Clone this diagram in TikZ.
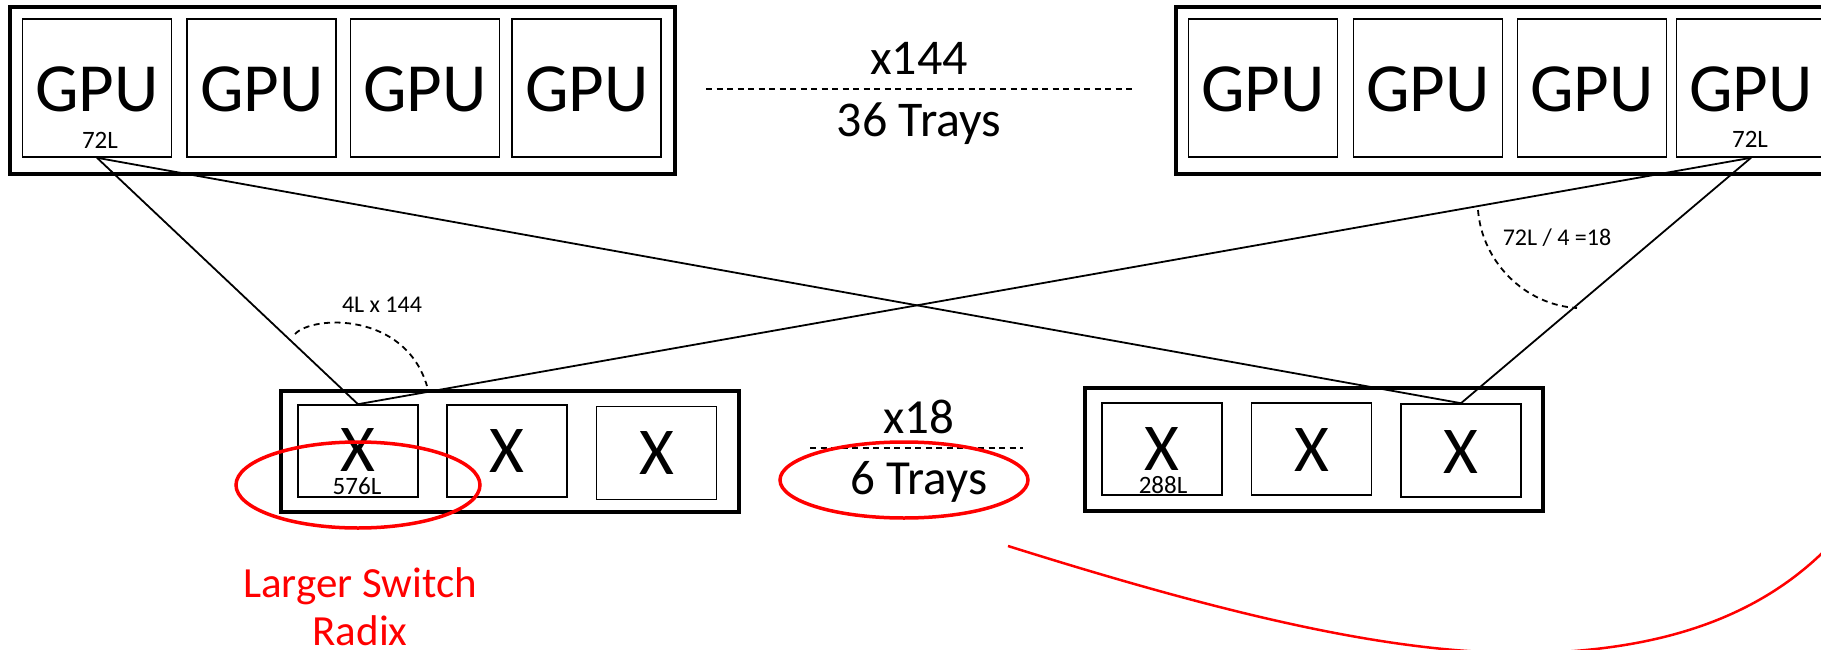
\documentclass[tikz,border=0pt]{standalone}
\usepackage{fontspec}
\setmainfont{Carlito}
\begin{document}
\begin{tikzpicture}[x=1pt,y=-1pt,
  tray/.style={draw, line width=4.5pt, inner sep=0pt, minimum width=#1},
  tray/.default=458pt,
  gpubox/.style={draw, line width=1.6pt, inner sep=0pt, minimum width=149pt, minimum height=138pt},
  xbox/.style={draw, line width=1.6pt, inner sep=0pt, minimum width=120pt, minimum height=92pt},
  big/.style={font=\fontsize{69}{70}\selectfont, anchor=base, inner sep=0pt},
  xlet/.style={font=\fontsize{67}{68}\selectfont, anchor=base, inner sep=0pt},
  mid/.style={font=\fontsize{50}{52}\selectfont, anchor=base, inner sep=0pt},
  small/.style={font=\fontsize{25}{26}\selectfont, anchor=base, inner sep=0pt},
  note/.style={font=\fontsize{24}{25}\selectfont, anchor=base, inner sep=0pt},
  link/.style={line width=1.8pt},
  guide/.style={line width=1.8pt, dash pattern=on 6pt off 4.5pt},
  redmark/.style={draw=red, line width=3.5pt},
  redtext/.style={text=red, font=\fontsize{43}{50}\selectfont, anchor=base, inner sep=0pt}
]
\useasboundingbox (0,0) rectangle (1821,650);

% top-left tray
\node[tray=665pt, minimum height=167pt] (tl) at (342.5,90.5) {};
\node[gpubox] (g1) at (97,88) {};
\node[gpubox] (g2) at (261.75,88) {};
\node[gpubox] (g3) at (425,88) {};
\node[gpubox] (g4) at (586.75,88) {};
\foreach \n/\x in {1/97,2/261.75,3/425,4/586.75}
  \node[big] (gl\n) at (\x,112) {GPU};
\node[small] (l72a) at (100,149) {72L};

% top-right tray
\node[tray=664pt, minimum height=167pt] (tr) at (1508,90.5) {};
\node[gpubox] (h1) at (1263,88) {};
\node[gpubox] (h2) at (1428,88) {};
\node[gpubox] (h3) at (1592,88) {};
\node[gpubox] (h4) at (1751,88) {};
\foreach \n/\x in {1/1263,2/1428,3/1592,4/1751}
  \node[big] (hl\n) at (\x,112) {GPU};
\node[small] (l72b) at (1750,148) {72L};

% middle top label
\coordinate (dt1) at (706,89);
\coordinate (dt2) at (1136,89);
\draw[guide] (dt1) -- (dt2);
\node[mid] (x144) at (919,75) {x144};
\node[mid] (t36) at (919,137) {36 Trays};

% bottom-left tray
\node[tray, minimum height=121pt] (bl) at (510,451.5) {};
\node[xbox] (x1) at (358,451) {};
\node[xbox] (x2) at (507,451) {};
\node[xbox, minimum height=93pt] (x3) at (656.5,453) {};
\node[xlet] (xl1) at (358,471) {X};
\node[xlet] (xl2) at (507,472) {X};
\node[xlet] (xl3) at (656.5,474) {X};
\node[small] (l576) at (357,494) {576L};

% bottom-right tray
\node[tray, minimum height=123pt] (br) at (1314,449.5) {};
\node[xbox] (y1) at (1162,449) {};
\node[xbox] (y2) at (1311.5,449) {};
\node[xbox, minimum height=93pt] (y3) at (1461,450.5) {};
\node[xlet] (yl1) at (1162,470) {X};
\node[xlet] (yl2) at (1311.5,471) {X};
\node[xlet] (yl3) at (1461,473) {X};
\node[small] (l288) at (1163,493) {288L};

% middle bottom label
\coordinate (db1) at (810,448);
\coordinate (db2) at (1023,448);
\draw[guide] (db1) -- (db2);
\node[mid, font=\fontsize{49}{50}\selectfont] (x18) at (919,433) {x18};
\node[mid, font=\fontsize{49}{50}\selectfont] (t6) at (919,494) {6 Trays};

% connectors
\draw[link] (g1.south) -- (x1.north);
\draw[link] (g1.south) -- (y3.north);
\draw[link] (h4.south) -- (x1.north);
\draw[link] (h4.south) -- (y3.north);

% angle markers
\coordinate (a1) at (295,334);
\coordinate (a2) at (427,386);
\draw[guide] (a1) .. controls (313,315) and (405,312) .. (a2);
\node[note] (n4l) at (382,312) {4L x 144};
\coordinate (b1) at (1478,210);
\coordinate (b2) at (1577,308);
\draw[guide] (b1) .. controls (1482,262) and (1525,305) .. (b2);
\node[note] (n72) at (1557,245) {72L / 4 =18};

% red annotations
\coordinate (rc1) at (358,485);
\draw[redmark] (rc1) ellipse [x radius=122pt, y radius=43pt];
\coordinate (rc2) at (904,480);
\draw[redmark] (rc2) ellipse [x radius=124pt, y radius=38pt];
\node[redtext] (rt1) at (360,597) {Larger Switch};
\node[redtext] (rt2) at (360,645) {Radix};
\coordinate (c1) at (1008,546);
\coordinate (c2) at (1560,652);
\coordinate (c3) at (1835,540);
\draw[red, line width=2.5pt] (c1) .. controls (1250,622) and (1420,660) .. (c2)
  .. controls (1680,645) and (1770,610) .. (c3);
\end{tikzpicture}
\end{document}
